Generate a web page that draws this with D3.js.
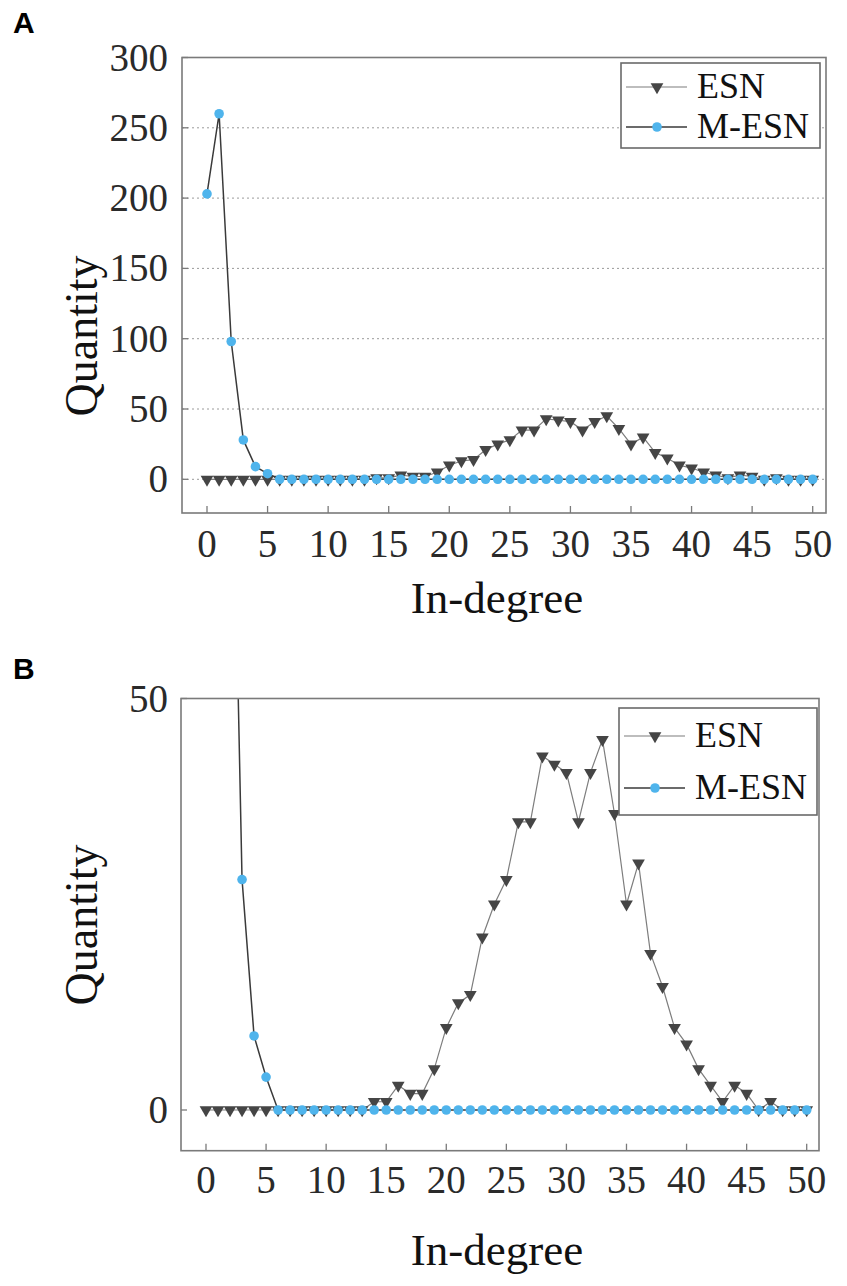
<!DOCTYPE html>
<html>
<head>
<meta charset="utf-8">
<script src="https://cdn.jsdelivr.net/npm/d3@7"></script>
<style>
  body { margin: 0; background: #fff; }
  svg { display: block; }
</style>
</head>
<body>
<div id="chart"></div>
<script>
// in-degree categories (x axis)
const inDegree = [0, 1, 2, 3, 4, 5, 6, 7, 8, 9, 10, 11, 12, 13, 14, 15, 16, 17, 18, 19, 20,
  21, 22, 23, 24, 25, 26, 27, 28, 29, 30, 31, 32, 33, 34, 35, 36, 37, 38, 39, 40,
  41, 42, 43, 44, 45, 46, 47, 48, 49, 50];

// quantity of neurons per in-degree
const esnCounts = [0, 0, 0, 0, 0, 0, 0, 0, 0, 0, 0, 0, 0, 0, 1, 1, 3, 2, 2, 5, 10,
  13, 14, 21, 25, 28, 35, 35, 43, 42, 41, 35, 41, 45, 36, 25, 30, 19, 15, 10, 8,
  5, 3, 1, 3, 2, 0, 1, 0, 0, 0];
const mEsnCounts = [203, 260, 98, 28, 9, 4, 0, 0, 0, 0, 0, 0, 0, 0, 0, 0, 0, 0, 0, 0, 0,
  0, 0, 0, 0, 0, 0, 0, 0, 0, 0, 0, 0, 0, 0, 0, 0, 0, 0, 0, 0,
  0, 0, 0, 0, 0, 0, 0, 0, 0, 0];

const seriesNames = ["ESN", "M-ESN"];
const xTicks = [0, 5, 10, 15, 20, 25, 30, 35, 40, 45, 50];
const yTicksA = [0, 50, 100, 150, 200, 250, 300];
const gridA = [0, 50, 100, 150, 200, 250];
const yTicksB = [0, 50];

const W = 847, H = 1286;
const serif = "'Liberation Serif', 'Times New Roman', serif";
const frameColor = "#7a7a7a";
const triColor = "#454545";
const blue = "#4fb4ec";

const svg = d3.select("#chart").append("svg")
  .attr("width", W)
  .attr("height", H);

const rows = inDegree.map((d, i) => ({ x: d, esn: esnCounts[i], mesn: mEsnCounts[i] }));

const triangle = d3.symbol().type(d3.symbolTriangle).size(70);

function drawPanel(p) {
  const g = svg.append("g");

  const x = d3.scaleLinear().domain([0, 50]).range([p.x0, p.x50]);
  const y = d3.scaleLinear().domain(p.yDomain).range(p.yRange);

  // panel letter
  svg.append("text")
    .attr("x", 13)
    .attr("y", p.labelY)
    .attr("font-family", "'Liberation Sans', Arial, sans-serif")
    .attr("font-weight", "bold")
    .attr("font-size", "30px")
    .attr("fill", "#000")
    .text(p.label);

  const clipId = "clip" + p.label;
  svg.append("clipPath").attr("id", clipId)
    .append("rect")
    .attr("x", p.left).attr("y", p.top)
    .attr("width", p.right - p.left).attr("height", p.bottom - p.top);

  // dotted grid
  g.selectAll(".grid")
    .data(p.grid)
    .enter().append("line")
    .attr("x1", p.left).attr("x2", p.right)
    .attr("y1", d => y(d)).attr("y2", d => y(d))
    .attr("stroke", "#9a9a9a")
    .attr("stroke-width", 1)
    .attr("stroke-dasharray", "2,3");

  // ticks (inside the frame)
  g.selectAll(".xtick")
    .data(xTicks)
    .enter().append("line")
    .attr("x1", d => x(d)).attr("x2", d => x(d))
    .attr("y1", p.bottom).attr("y2", p.bottom - 7)
    .attr("stroke", frameColor)
    .attr("stroke-width", 1.3);

  g.selectAll(".ytick")
    .data(p.yTicks)
    .enter().append("line")
    .attr("x1", p.left).attr("x2", p.left + 6)
    .attr("y1", d => y(d)).attr("y2", d => y(d))
    .attr("stroke", frameColor)
    .attr("stroke-width", 1.3);

  // tick labels
  g.selectAll(".xlab")
    .data(xTicks)
    .enter().append("text")
    .attr("x", d => x(d))
    .attr("y", p.xLabelY)
    .attr("text-anchor", "middle")
    .attr("font-family", serif)
    .attr("font-size", "39px")
    .attr("fill", "#2a2a2a")
    .text(d => d);

  g.selectAll(".ylab")
    .data(p.yTicks)
    .enter().append("text")
    .attr("x", 168)
    .attr("y", d => y(d) + 13)
    .attr("text-anchor", "end")
    .attr("font-family", serif)
    .attr("font-size", "39px")
    .attr("fill", "#2a2a2a")
    .text(d => d);

  // axis titles
  g.append("text")
    .attr("x", 497)
    .attr("y", p.titleY)
    .attr("text-anchor", "middle")
    .attr("font-family", serif)
    .attr("font-size", "45px")
    .attr("fill", "#111")
    .text("In-degree");

  g.append("text")
    .attr("transform", `translate(97,${p.quantY}) rotate(-90)`)
    .attr("text-anchor", "middle")
    .attr("font-family", serif)
    .attr("font-size", "46px")
    .attr("fill", "#111")
    .text("Quantity");

  // data
  const plot = g.append("g").attr("clip-path", `url(#${clipId})`);

  plot.append("path")
    .datum(rows)
    .attr("fill", "none")
    .attr("stroke", "#7d7d7d")
    .attr("stroke-width", 1.2)
    .attr("d", d3.line().x(d => x(d.x)).y(d => y(d.esn)));

  plot.selectAll(".tri")
    .data(rows)
    .enter().append("path")
    .attr("d", triangle)
    .attr("transform", d => `translate(${x(d.x)},${y(d.esn)}) rotate(180)`)
    .attr("fill", triColor);

  plot.append("path")
    .datum(rows)
    .attr("fill", "none")
    .attr("stroke", "#3a3a3a")
    .attr("stroke-width", 1.5)
    .attr("d", d3.line().x(d => x(d.x)).y(d => y(d.mesn)));

  plot.selectAll(".dot")
    .data(rows)
    .enter().append("circle")
    .attr("cx", d => x(d.x))
    .attr("cy", d => y(d.mesn))
    .attr("r", 4.8)
    .attr("fill", blue);

  // frame
  g.append("rect")
    .attr("x", p.left).attr("y", p.top)
    .attr("width", p.right - p.left).attr("height", p.bottom - p.top)
    .attr("fill", "none")
    .attr("stroke", frameColor)
    .attr("stroke-width", 1.6);

  // legend
  const L = p.legend;
  const lg = g.append("g");
  lg.append("rect")
    .attr("x", L.x).attr("y", L.y)
    .attr("width", L.w).attr("height", L.h)
    .attr("fill", "#fff")
    .attr("stroke", "#6a6a6a")
    .attr("stroke-width", 1.6);

  seriesNames.forEach((name, i) => {
    const ry = L.rows[i];
    lg.append("line")
      .attr("x1", L.x + 5).attr("x2", L.x + 66)
      .attr("y1", ry).attr("y2", ry)
      .attr("stroke", i === 0 ? "#7d7d7d" : "#3a3a3a")
      .attr("stroke-width", i === 0 ? 1.2 : 1.5);
    if (i === 0) {
      lg.append("path")
        .attr("d", triangle)
        .attr("transform", `translate(${L.x + 36},${ry}) rotate(180)`)
        .attr("fill", triColor);
    } else {
      lg.append("circle")
        .attr("cx", L.x + 36).attr("cy", ry)
        .attr("r", 4.8)
        .attr("fill", blue);
    }
    lg.append("text")
      .attr("x", L.x + 76)
      .attr("y", ry + 11)
      .attr("font-family", serif)
      .attr("font-size", "36px")
      .attr("fill", "#111")
      .text(name);
  });
}

drawPanel({
  label: "A", labelY: 33,
  left: 182, right: 826, top: 57.5, bottom: 513,
  x0: 207, x50: 812.7,
  yDomain: [0, 300], yRange: [479.3, 57.5],
  yTicks: yTicksA, grid: gridA,
  xLabelY: 557, titleY: 613, quantY: 336,
  legend: { x: 621, y: 63, w: 199, h: 85, rows: [87, 127] }
});

drawPanel({
  label: "B", labelY: 679,
  left: 181, right: 819, top: 698.5, bottom: 1150.7,
  x0: 206, x50: 806.7,
  yDomain: [0, 50], yRange: [1110, 698.5],
  yTicks: yTicksB, grid: [],
  xLabelY: 1193, titleY: 1265, quantY: 925,
  legend: { x: 619, y: 708, w: 198, h: 107, rows: [736, 788] }
});
</script>
</body>
</html>
